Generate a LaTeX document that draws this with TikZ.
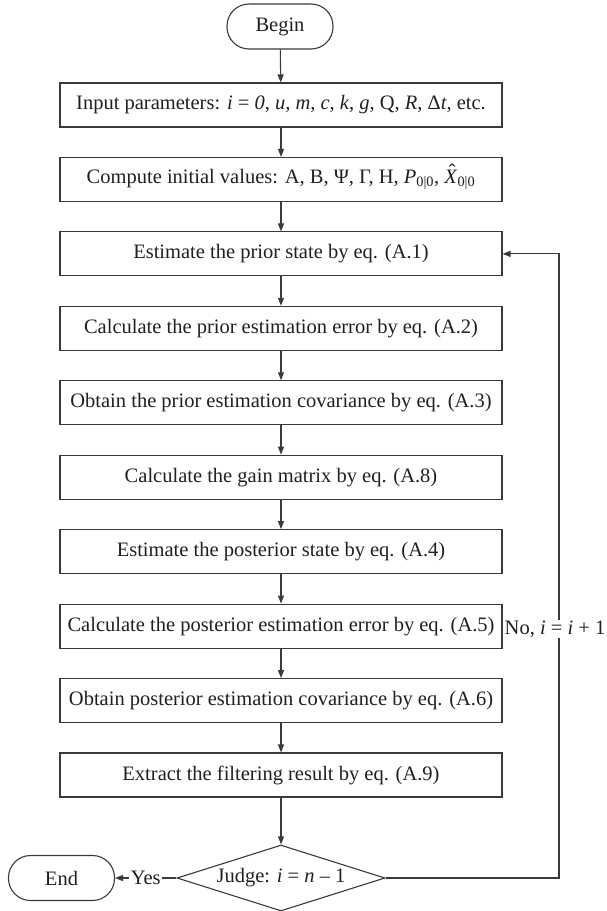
\documentclass[tikz,border=0pt]{standalone}
\usepackage{fontspec}
\setmainfont{Liberation Serif}
\usetikzlibrary{arrows.meta,shapes.geometric}
\definecolor{ln}{HTML}{3A3A3A}
\definecolor{tx}{HTML}{231F20}
\newcommand{\hatX}{\ooalign{\textit{X}\cr\hidewidth\kern0.12em\raisebox{0.22em}{\char"02C6}\hidewidth\cr}}
\begin{document}
\begin{tikzpicture}[x=1pt,y=-1pt,
  every node/.style={text=tx,font=\fontsize{20.5}{24}\selectfont},
  procbox/.style={draw=ln,line width=1.1pt,rectangle,minimum width=442pt,minimum height=44pt,inner sep=0pt},
  term/.style={draw=ln,line width=1.1pt,rectangle,rounded corners=22pt,minimum width=106pt,minimum height=45pt,inner sep=0pt},
  decide/.style={draw=ln,line width=1.1pt,diamond,minimum width=208pt,minimum height=66pt,inner sep=0pt,shape aspect=3.15},
  arr/.style={draw=ln,line width=1.1pt,-{Triangle[length=8pt,width=6pt]}},
  lnk/.style={draw=ln,line width=1.1pt}]
\useasboundingbox (0,0) rectangle (606,911);
\node[term] (begin) at (280,26.5) {Begin};
\node[procbox] (input) at (281,105) {Input parameters: \textit{i} = \textit{0}, \textit{u}, \textit{m}, \textit{c}, \textit{k}, \textit{g}, Q, \textit{R}, Δ\textit{t}, etc.};
\node[procbox] (comp) at (281,179.4) {Compute initial values: A, B, Ψ, Γ, H, \textit{P}\textsubscript{0|0}, \hatX\textsubscript{0|0}};
\node[procbox] (prior) at (281,253.9) {Estimate the prior state by eq. (A.1)};
\node[procbox] (perr) at (281,328.3) {Calculate the prior estimation error by eq. (A.2)};
\node[procbox] (pcov) at (281,402.8) {Obtain the prior estimation covariance by eq. (A.3)};
\node[procbox] (gain) at (281,477.2) {Calculate the gain matrix by eq. (A.8)};
\node[procbox] (post) at (281,551.7) {Estimate the posterior state by eq. (A.4)};
\node[procbox] (qerr) at (281,626.1) {Calculate the posterior estimation error by eq. (A.5)};
\node[procbox] (qcov) at (281,700.6) {Obtain posterior estimation covariance by eq. (A.6)};
\node[procbox] (extr) at (281,775) {Extract the filtering result by eq. (A.9)};
\node[decide] (judge) at (281,878) {Judge: \textit{i} = \textit{n} – 1};
\node[term] (end) at (61.5,878) {End};
\coordinate (lb) at (559,878);
\coordinate (lt) at (559,253.9);
\draw[arr] (begin) -- (input);
\draw[arr] (input) -- (comp);
\draw[arr] (comp) -- (prior);
\draw[arr] (prior) -- (perr);
\draw[arr] (perr) -- (pcov);
\draw[arr] (pcov) -- (gain);
\draw[arr] (gain) -- (post);
\draw[arr] (post) -- (qerr);
\draw[arr] (qerr) -- (qcov);
\draw[arr] (qcov) -- (extr);
\draw[arr] (extr) -- (judge);
\draw[arr] (judge.west) -- node[fill=white,inner sep=1.5pt] (yes) {Yes} (end.east);
\draw[arr] (judge.east) -- (lb) -- (lt) -- (prior.east);
\node[fill=white,inner sep=1pt] (no) at (555,629) {No, \textit{i} = \textit{i} + 1};
\end{tikzpicture}
\end{document}
